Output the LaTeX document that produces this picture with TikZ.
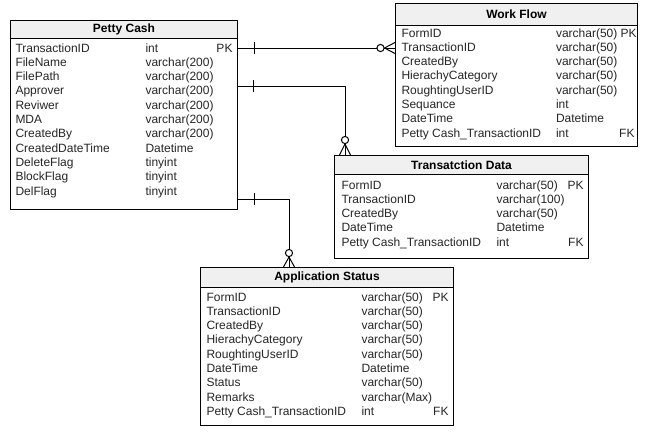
\documentclass[tikz,border=0pt]{standalone}
\usepackage{fontspec}
\setmainfont{Liberation Sans}
\definecolor{headgray}{HTML}{F0F0F0}
\begin{document}
\begin{tikzpicture}[x=1pt,y=-1pt,
  line width=1pt,
  tblbox/.style={draw=black, fill=white, anchor=north west, inner sep=0pt},
  tblhead/.style={draw=black, fill=headgray, anchor=north west, inner sep=0pt, font=\bfseries\fontsize{12}{14}\selectfont},
  cell/.style={inner sep=0pt, font=\fontsize{12}{14}\selectfont, text=black!85},
  conn/.style={draw=black, line width=1pt},
  crowend/.style={draw=black, line width=1pt, fill=white}]
\useasboundingbox (0,0) rectangle (652,437);

% ---------- Petty Cash ----------
\node[tblbox, minimum width=227, minimum height=189] (pc) at (10,20) {};
\node[tblhead, minimum width=227, minimum height=18] (pch) at (10,20) {Petty Cash};
\foreach [count=\i] \n/\t/\k in {TransactionID/int/PK, FileName/varchar(200)/, FilePath/varchar(200)/,
  Approver/varchar(200)/, Reviwer/varchar(200)/, MDA/varchar(200)/, CreatedBy/varchar(200)/,
  CreatedDateTime/Datetime/, DeleteFlag/tinyint/, BlockFlag/tinyint/, DelFlag/tinyint/} {
  \node[cell, anchor=base west] (pcn\i) at (15,{52+14.3*(\i-1)}) {\n};
  \node[cell, anchor=base west] (pct\i) at (145,{52+14.3*(\i-1)}) {\t};
  \node[cell, anchor=base east] (pck\i) at (233,{52+14.3*(\i-1)}) {\k};
}

% ---------- Work Flow ----------
\node[tblbox, minimum width=242, minimum height=143] (wf) at (395,3) {};
\node[tblhead, minimum width=242, minimum height=22] (wfh) at (395,3) {Work Flow};
\foreach [count=\i] \n/\t/\k in {FormID/varchar(50) PK/, TransactionID/varchar(50)/, CreatedBy/varchar(50)/,
  HierachyCategory/varchar(50)/, RoughtingUserID/varchar(50)/, Sequance/int/, DateTime/Datetime/,
  Petty Cash\_TransactionID/int/FK} {
  \node[cell, anchor=base west] (wfn\i) at (401,{37+14.3*(\i-1)}) {\n};
  \node[cell, anchor=base west] (wft\i) at (555.5,{37+14.3*(\i-1)}) {\t};
  \node[cell, anchor=base east] (wfk\i) at (635,{37+14.3*(\i-1)}) {\k};
}

% ---------- Transatction Data ----------
\node[tblbox, minimum width=254, minimum height=103] (td) at (334,155) {};
\node[tblhead, minimum width=254, minimum height=19] (tdh) at (334,155) {Transatction Data};
\foreach [count=\i] \n/\t/\k in {FormID/varchar(50)/PK, TransactionID/varchar(100)/, CreatedBy/varchar(50)/,
  DateTime/Datetime/, Petty Cash\_TransactionID/int/FK} {
  \node[cell, anchor=base west] (tdn\i) at (341,{189+14.3*(\i-1)}) {\n};
  \node[cell, anchor=base west] (tdt\i) at (496,{189+14.3*(\i-1)}) {\t};
  \node[cell, anchor=base east] (tdk\i) at (584,{189+14.3*(\i-1)}) {\k};
}

% ---------- Application Status ----------
\node[tblbox, minimum width=253, minimum height=158] (as) at (200,267) {};
\node[tblhead, minimum width=253, minimum height=20] (ash) at (200,267) {Application Status};
\foreach [count=\i] \n/\t/\k in {FormID/varchar(50)/PK, TransactionID/varchar(50)/, CreatedBy/varchar(50)/,
  HierachyCategory/varchar(50)/, RoughtingUserID/varchar(50)/, DateTime/Datetime/, Status/varchar(50)/,
  Remarks/varchar(Max)/, Petty Cash\_TransactionID/int/FK} {
  \node[cell, anchor=base west] (asn\i) at (206,{301+14.3*(\i-1)}) {\n};
  \node[cell, anchor=base west] (ast\i) at (361,{301+14.3*(\i-1)}) {\t};
  \node[cell, anchor=base east] (ask\i) at (449,{301+14.3*(\i-1)}) {\k};
}

% ---------- Connectors ----------
% Petty Cash -> Work Flow
\draw[conn] (pc.east |- 0,48) -- (wf.west |- 0,48);
\draw[conn] (254,42) -- (254,54);
\draw[conn] (384.5,48) -- (wf.west |- 0,42.5);
\draw[conn] (384.5,48) -- (wf.west |- 0,53.5);
\draw[crowend] (380.5,48) circle (3.6);

% Petty Cash -> Transatction Data
\draw[conn] (pc.east |- 0,86) -- (345,86) -- (td.north -| 345,0);
\draw[conn] (253,80) -- (253,92);
\draw[conn] (345,144) -- (td.north -| 339.5,0);
\draw[conn] (345,144) -- (td.north -| 350.5,0);
\draw[crowend] (345,140) circle (3.6);

% Petty Cash -> Application Status
\draw[conn] (pc.east |- 0,199) -- (289,199) -- (as.north -| 289,0);
\draw[conn] (254,193) -- (254,205);
\draw[conn] (289,257) -- (as.north -| 283.5,0);
\draw[conn] (289,257) -- (as.north -| 294.5,0);
\draw[crowend] (289,253) circle (3.6);
\end{tikzpicture}
\end{document}
